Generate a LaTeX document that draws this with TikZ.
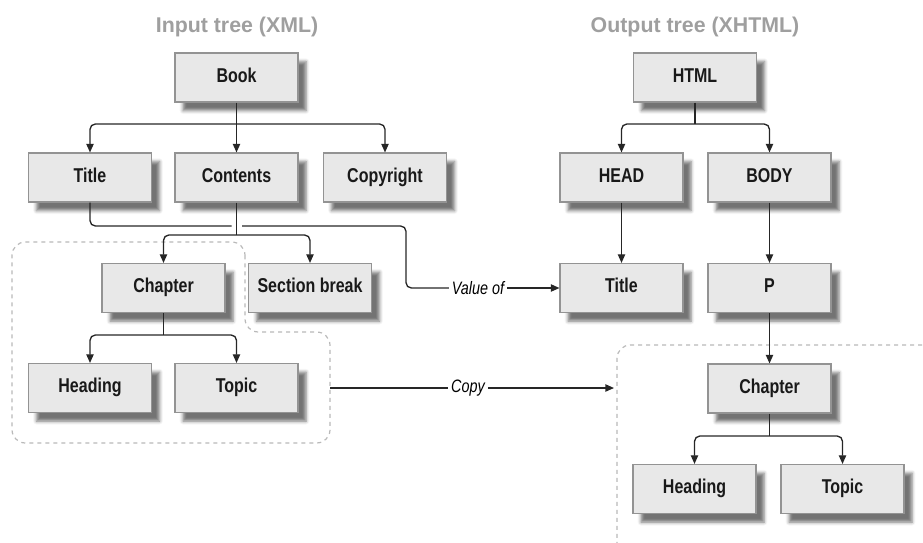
\documentclass[tikz,border=0pt]{standalone}
\usepackage{fontspec}
\setmainfont{Liberation Sans}
\newfontfamily\boxfont[FakeStretch=0.8]{Liberation Sans}
\newfontfamily\lblfont[FakeStretch=0.8]{Liberation Sans}
\usetikzlibrary{arrows.meta,shadows.blur}
\begin{document}
\begin{tikzpicture}[x=0.75pt,y=-0.75pt,
 box/.style={draw=gray!85, line width=0.8pt, fill=gray!18, minimum width=92.25pt, minimum height=36.75pt, inner sep=0pt,
   text height=0.72em, text depth=0.04em,
   font=\boxfont\bfseries\fontsize{15}{18}\selectfont, text=black!90,
   blur shadow={shadow xshift=6pt, shadow yshift=-6.5pt, shadow blur radius=2.5pt, shadow opacity=55}},
 ttl/.style={font=\bfseries\fontsize{16}{19}\selectfont, text=gray!75},
 lbl/.style={font=\lblfont\itshape\fontsize{13.5}{16}\selectfont, inner sep=2pt},
 con/.style={draw=black!85, line width=1pt, rounded corners=4pt},
 arr/.style={con, -{Triangle[length=6.5pt,width=5.5pt]}},
 arr2/.style={con, {Triangle[length=6.5pt,width=5.5pt]}-{Triangle[length=6.5pt,width=5.5pt]}},
 region/.style={draw=gray!55, line width=0.9pt, dash pattern=on 3pt off 3pt, rounded corners=10pt}]
\useasboundingbox (0,0) rectangle (923,542);
% regions
\draw[region] (245,242) -- (245,332) -- (330,332) -- (330,443) -- (12,443) -- (12,242) -- cycle;
\draw[region] (930,345) -- (617,345) -- (617,550);
% titles
\node[ttl] (tin) at (237,27) {Input tree (XML)};
\node[ttl] (tout) at (695,27) {Output tree (XHTML)};
% input tree
\node[box] (book) at (236.5,77.5) {Book};
\node[box] (title) at (90,177.5) {Title};
\node[box] (contents) at (236.5,177.5) {Contents};
\node[box] (copyright) at (385,177.5) {Copyright};
\node[box] (chapter) at (163.5,288) {Chapter};
\node[box] (sbreak) at (310,288) {Section break};
\node[box] (heading) at (90,388) {Heading};
\node[box] (topic) at (236.5,388) {Topic};
% output tree
\node[box] (html) at (695,77.5) {HTML};
\node[box] (head) at (621.5,177.5) {HEAD};
\node[box] (body) at (769.5,177.5) {BODY};
\node[box] (otitle) at (621.5,288) {Title};
\node[box] (p) at (769.5,288) {P};
\node[box] (ochapter) at (769.5,388.5) {Chapter};
\node[box] (oheading) at (694.5,489) {Heading};
\node[box] (otopic) at (842.5,489) {Topic};
% labels
\node[lbl] (valueof) at (478,288) {Value of};
\node[lbl] (copy) at (468,388) {Copy};
% coordinates
\coordinate (b1) at (236.5,124);
\coordinate (b2) at (236.5,235);
\coordinate (b3) at (163.5,335);
\coordinate (b4) at (695,124);
\coordinate (b5) at (769.5,436);
\coordinate (h1) at (231.5,226);
\coordinate (h2) at (242,226);
\coordinate (vbot) at (406,288);
\coordinate (cl) at (330,388);
\coordinate (cr) at (614,388);
% input connectors
\draw[arr] (book) -- (contents);
\draw[arr2] (title.north) |- (b1) -| (copyright.north);
\draw[con] (contents.south) -- (b2);
\draw[arr2] (chapter.north) |- (b2) -| (sbreak.north);
\draw[con] (chapter.south) -- (b3);
\draw[arr2] (heading.north) |- (b3) -| (topic.north);
\draw[con] (title.south) |- (h1);
\draw[con] (h2) -| (vbot) -- (valueof.west);
\draw[arr] (valueof) -- (otitle);
\draw[con] (cl) -- (copy);
\draw[arr] (copy) -- (cr);
% output connectors
\draw[con] (html.south) -- (b4);
\draw[arr2] (head.north) |- (b4) -| (body.north);
\draw[arr] (head) -- (otitle);
\draw[arr] (body) -- (p);
\draw[arr] (p) -- (ochapter);
\draw[con] (ochapter.south) -- (b5);
\draw[arr2] (oheading.north) |- (b5) -| (otopic.north);
\end{tikzpicture}
\end{document}
